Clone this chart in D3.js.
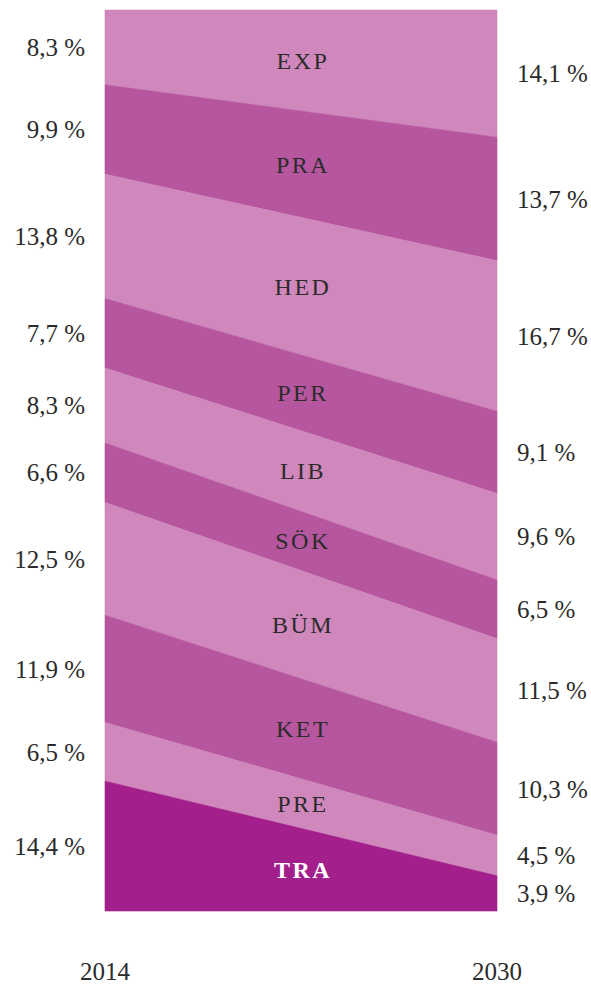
<!DOCTYPE html>
<html>
<head>
<meta charset="utf-8">
<script src="https://d3js.org/d3.v7.min.js"></script>
<style>
  body { margin: 0; background: #fff; }
  text { font-family: "Liberation Serif", "DejaVu Serif", serif; fill: #2b2b2b; }
  .cat { letter-spacing: 2.5px; }
</style>
</head>
<body>
<div id="chart"></div>
<script>
const years = ["2014", "2030"];
const categories = ["EXP", "PRA", "HED", "PER", "LIB", "SÖK", "BÜM", "KET", "PRE", "TRA"];
const values2014 = [8.3, 9.9, 13.8, 7.7, 8.3, 6.6, 12.5, 11.9, 6.5, 14.4];
const values2030 = [14.1, 13.7, 16.7, 9.1, 9.6, 6.5, 11.5, 10.3, 4.5, 3.9];
const labels2014 = ["8,3 %", "9,9 %", "13,8 %", "7,7 %", "8,3 %", "6,6 %", "12,5 %", "11,9 %", "6,5 %", "14,4 %"];
const labels2030 = ["14,1 %", "13,7 %", "16,7 %", "9,1 %", "9,6 %", "6,5 %", "11,5 %", "10,3 %", "4,5 %", "3,9 %"];

const width = 591, height = 984;
const plotLeft = 105, plotRight = 497, plotTop = 10, plotBottom = 911;

const svg = d3.select("#chart").append("svg")
  .attr("width", width)
  .attr("height", height);

const x = d3.scalePoint().domain(years).range([plotLeft, plotRight]);

// stack from the top, normalised to 100
function cum(vals) {
  const total = d3.sum(vals);
  let acc = 0;
  return vals.map(v => { const y0 = acc; acc += v / total * 100; return [y0, acc]; });
}
const c14 = cum(values2014);
const c30 = cum(values2030);
const y = d3.scaleLinear().domain([0, 100]).range([plotTop, plotBottom]);

const light = "#d088bc", dark = "#b5569f", last = "#a21f8c";
const fill = (i) => i === categories.length - 1 ? last : (i % 2 === 0 ? light : dark);

const area = d3.area()
  .x(d => x(d.year))
  .y0(d => y(d.y0))
  .y1(d => y(d.y1));

categories.forEach((cat, i) => {
  const pts = [
    { year: years[0], y0: c14[i][0], y1: c14[i][1] },
    { year: years[1], y0: c30[i][0], y1: c30[i][1] }
  ];
  svg.append("path")
    .datum(pts)
    .attr("d", area)
    .attr("fill", fill(i))
    .attr("stroke", fill(i))
    .attr("stroke-width", 0.6);

  const mid = (y((c14[i][0] + c14[i][1]) / 2) + y((c30[i][0] + c30[i][1]) / 2)) / 2;
  svg.append("text")
    .attr("class", "cat")
    .attr("x", (plotLeft + plotRight) / 2 + 2)
    .attr("y", mid)
    .attr("dy", "0.35em")
    .attr("text-anchor", "middle")
    .attr("font-size", 24)
    .style("fill", i === categories.length - 1 ? "#fff" : null)
    .style("font-weight", i === categories.length - 1 ? "bold" : null)
    .text(cat);

  svg.append("text")
    .attr("x", 85)
    .attr("y", y((c14[i][0] + c14[i][1]) / 2))
    .attr("dy", "0.35em")
    .attr("text-anchor", "end")
    .attr("font-size", 25)
    .text(labels2014[i]);

  svg.append("text")
    .attr("x", 517)
    .attr("y", y((c30[i][0] + c30[i][1]) / 2))
    .attr("dy", "0.35em")
    .attr("text-anchor", "start")
    .attr("font-size", 25)
    .text(labels2030[i]);
});

svg.selectAll(".year")
  .data(years)
  .join("text")
  .attr("class", "year")
  .attr("x", d => x(d))
  .attr("y", 980)
  .attr("text-anchor", "middle")
  .attr("font-size", 25)
  .text(d => d);
</script>
</body>
</html>
